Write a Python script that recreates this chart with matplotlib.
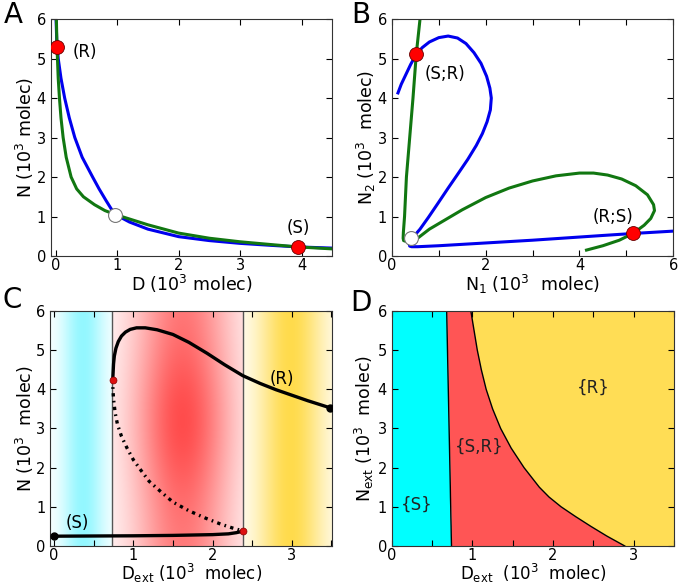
import numpy as np
import matplotlib
matplotlib.use('Agg')
import matplotlib.pyplot as plt

# ---- panel A: nullclines in (D, N) ----
a_blue_D = [0.00, 0.005, 0.015, 0.04, 0.085, 0.145, 0.22, 0.31, 0.43, 0.60, 0.705, 0.82,
            0.90, 0.97, 1.20, 1.50, 2.00, 2.50, 3.00, 3.50, 3.94, 4.50]
a_blue_N = [6.30, 6.00, 5.50, 5.00, 4.50, 4.00, 3.50, 3.00, 2.50, 2.00, 1.70, 1.40,
            1.20, 1.05, 0.86, 0.68, 0.49, 0.39, 0.32, 0.27, 0.23, 0.20]
a_green_D = [0.01, 0.01, 0.02, 0.04, 0.06, 0.085, 0.12, 0.17, 0.25, 0.34, 0.45, 0.63,
             0.80, 0.97, 1.50, 2.00, 2.50, 3.00, 3.50, 3.94, 4.50]
a_green_N = [6.30, 6.00, 5.30, 4.50, 4.00, 3.50, 3.00, 2.50, 2.00, 1.70, 1.50, 1.30,
             1.15, 1.05, 0.79, 0.58, 0.45, 0.36, 0.29, 0.23, 0.18]
a_stable = [(0.02, 5.30), (3.94, 0.23)]
a_unstable = (0.97, 1.05)

# ---- panel B: nullclines in (N1, N2) ----
b_blue_x = [0.13, 0.20, 0.30, 0.40, 0.52, 0.65, 0.80, 1.00, 1.20, 1.40, 1.58, 1.75, 1.90,
            2.02, 2.09, 2.12, 2.10, 2.03, 1.93, 1.80, 1.62, 1.42, 1.20, 0.98, 0.78, 0.60,
            0.47, 0.40, 0.37, 0.38, 0.42, 0.55, 1.00, 1.50, 2.00, 2.50, 3.00, 3.50, 4.00,
            4.50, 5.14, 6.00]
b_blue_y = [4.13, 4.35, 4.60, 4.85, 5.11, 5.28, 5.42, 5.53, 5.57, 5.52, 5.38, 5.15, 4.88,
            4.55, 4.25, 4.00, 3.70, 3.40, 3.10, 2.80, 2.45, 2.10, 1.72, 1.33, 0.98, 0.68,
            0.50, 0.38, 0.30, 0.25, 0.235, 0.235, 0.26, 0.295, 0.33, 0.365, 0.40, 0.44, 0.48,
            0.52, 0.57, 0.63]
b_green_x = [4.15, 4.50, 4.85, 5.14, 5.38, 5.52, 5.60, 5.58, 5.45, 5.20, 4.90, 4.60, 4.30,
             4.00, 3.50, 3.00, 2.50, 2.00, 1.50, 1.00, 0.80, 0.57, 0.50, 0.40, 0.30, 0.25,
             0.24, 0.245, 0.27, 0.31, 0.38, 0.45, 0.52, 0.60]
b_green_y = [0.15, 0.26, 0.40, 0.57, 0.78, 0.95, 1.15, 1.30, 1.55, 1.78, 1.95, 2.05, 2.10,
             2.10, 2.03, 1.90, 1.72, 1.48, 1.17, 0.82, 0.68, 0.47, 0.43, 0.39, 0.37, 0.39,
             0.45, 0.60, 1.00, 2.00, 3.00, 4.00, 5.11, 6.00]
b_stable = [(0.52, 5.11), (5.14, 0.57)]
b_unstable = (0.41, 0.45)

# ---- panel C: bifurcation diagram N vs D_ext ----
c_up_D = [0.74, 0.745, 0.75, 0.76, 0.78, 0.81, 0.85, 0.90, 0.96, 1.04, 1.15, 1.30, 1.50,
          1.70, 1.93, 2.15, 2.38, 2.60, 2.80, 3.00, 3.20, 3.48]
c_up_N = [4.25, 4.45, 4.65, 4.85, 5.05, 5.22, 5.36, 5.46, 5.53, 5.57, 5.57, 5.52, 5.40,
          5.20, 4.92, 4.63, 4.35, 4.15, 3.99, 3.85, 3.71, 3.53]
c_mid_D = [0.74, 0.742, 0.75, 0.77, 0.80, 0.85, 0.92, 1.00, 1.10, 1.20, 1.35, 1.50, 1.70,
           1.90, 2.10, 2.25, 2.39]
c_mid_N = [4.25, 4.00, 3.75, 3.40, 3.10, 2.80, 2.50, 2.20, 1.92, 1.65, 1.38, 1.12, 0.90,
           0.72, 0.56, 0.46, 0.38]
c_low_D = [0.00, 0.50, 1.00, 1.50, 2.00, 2.20, 2.30, 2.39]
c_low_N = [0.25, 0.255, 0.26, 0.27, 0.29, 0.31, 0.34, 0.38]
c_saddle = [(0.74, 4.25), (2.39, 0.38)]
c_ends = [(0.00, 0.25), (3.48, 3.53)]
c_edges = [0.73, 2.38]

# ---- panel D: phase diagram in (D_ext, N_ext) ----
d_N = [0, 0.25, 0.5, 0.75, 1, 1.25, 1.5, 2, 2.5, 3, 3.5, 4, 4.5, 5, 5.5, 6]
d_left = [0.74, 0.737, 0.735, 0.732, 0.73, 0.727, 0.725, 0.72, 0.715, 0.71, 0.705, 0.70,
          0.695, 0.69, 0.685, 0.68]
d_right = [2.89, 2.67, 2.47, 2.28, 2.10, 1.95, 1.83, 1.64, 1.48, 1.35, 1.25, 1.17,
           1.11, 1.06, 1.02, 0.98]

plt.rcParams['font.family'] = 'DejaVu Sans'
plt.rcParams['mathtext.default'] = 'regular'
plt.rcParams['xtick.direction'] = 'in'
plt.rcParams['ytick.direction'] = 'in'
plt.rcParams['xtick.top'] = True
plt.rcParams['ytick.right'] = True
plt.rcParams['xtick.major.size'] = 4
plt.rcParams['ytick.major.size'] = 4
plt.rcParams['xtick.major.pad'] = 1.5
plt.rcParams['xtick.labelsize'] = 10.5
plt.rcParams['ytick.labelsize'] = 10.5
plt.rcParams['axes.labelsize'] = 12.5
plt.rcParams['axes.edgecolor'] = '#333333'

fig = plt.figure(figsize=(6.78, 5.85), dpi=100)
axA = fig.add_axes([0.075, 0.5624, 0.415, 0.405])
axB = fig.add_axes([0.578, 0.5624, 0.415, 0.405])
axC = fig.add_axes([0.074, 0.0667, 0.416, 0.4017])
axD = fig.add_axes([0.578, 0.0667, 0.416, 0.4017])

def xticks_half(ax, lo, hi):
    t = np.arange(lo, hi + 0.01, 0.5)
    ax.set_xticks(t)
    ax.set_xticklabels(['%d' % v if v == int(v) else '' for v in t])

def labels(ax, xl, yl, ylx, xly=-0.12, xls=12.5):
    ax.set_xlabel(xl, va='center', fontsize=xls)
    ax.set_ylabel(yl, va='center')
    ax.xaxis.set_label_coords(0.5, xly)
    ax.yaxis.set_label_coords(ylx, 0.5)

# A
axA.plot(a_blue_D, a_blue_N, color='#0000ee', lw=2.2)
axA.plot(a_green_D, a_green_N, color='#117711', lw=2.2)
for x, y in a_stable:
    axA.plot(x, y, 'o', ms=10, mfc='red', mec='#660000', mew=0.6, zorder=5)
axA.plot(*a_unstable, 'o', ms=10, mfc='white', mec='#777777', mew=0.8, zorder=5)
axA.text(0.47, 5.17, '(R)', fontsize=12, va='center', ha='center')
axA.text(3.95, 0.70, '(S)', fontsize=12, va='center', ha='center')
axA.set_xlim(-0.08, 4.5)
axA.set_ylim(0, 6)
axA.set_xticks([0, 1, 2, 3, 4])
axA.set_yticks(range(7))
labels(axA, 'D (10$^3$ molec)', 'N (10$^3$ molec)', -0.092)

# B
axB.plot(b_blue_x, b_blue_y, color='#0000ee', lw=2.2)
axB.plot(b_green_x, b_green_y, color='#117711', lw=2.2)
for x, y in b_stable:
    axB.plot(x, y, 'o', ms=10, mfc='red', mec='#660000', mew=0.6, zorder=5)
axB.plot(*b_unstable, 'o', ms=10, mfc='white', mec='#777777', mew=0.8, zorder=5)
axB.text(1.13, 4.62, '(S;R)', fontsize=12, va='center', ha='center')
axB.text(4.72, 0.99, '(R;S)', fontsize=12, va='center', ha='center')
axB.set_xlim(0, 6)
axB.set_ylim(0, 6)
axB.set_xticks(range(7))
axB.set_xticklabels(['0', '', '2', '', '4', '', '6'])
axB.set_yticks(range(7))
labels(axB, 'N$_1$ (10$^3$  molec)', 'N$_2$ (10$^3$  molec)', -0.092)

# C
def band(ax, x0, x1, c, s, rgb, vmod=False):
    xs = np.linspace(x0, x1, 300)
    ys = np.linspace(0, 6, 150)
    X, Y = np.meshgrid(xs, ys)
    w = np.exp(-0.5 * ((X - c) / s) ** 2)
    if vmod:
        w = w * (0.72 + 0.28 * np.exp(-((Y - 3.2) / 2.0) ** 2))
    img = 1 - w[..., None] * (1 - np.array(rgb))
    ax.imshow(img, extent=(x0, x1, 0, 6), origin='lower', aspect='auto',
              interpolation='bilinear', zorder=0)

cxlo, cxhi = -0.05, 3.51
band(axC, cxlo, c_edges[0], 0.37, 0.19, (0.58, 0.97, 1.0))
band(axC, c_edges[0], c_edges[1], 1.62, 0.45, (1.0, 0.30, 0.30), vmod=True)
band(axC, c_edges[1], cxhi, 2.98, 0.30, (1.0, 0.86, 0.30))
for e in c_edges:
    axC.axvline(e, color='#555555', lw=1, zorder=1)
axC.plot(c_up_D, c_up_N, color='black', lw=2.4, zorder=2)
axC.plot(c_low_D, c_low_N, color='black', lw=2.4, zorder=2)
axC.plot(c_mid_D, c_mid_N, color='black', lw=2.4, zorder=2,
         linestyle=(0, (1, 1.3, 0.5, 1.3)))
for x, y in c_ends:
    axC.plot(x, y, 'o', ms=5, color='black', zorder=3)
for x, y in c_saddle:
    axC.plot(x, y, 'o', ms=5, mfc='#dd1111', mec='#880000', mew=0.5, zorder=3)
axC.text(0.29, 0.59, '(S)', fontsize=12, va='center', ha='center')
axC.text(2.88, 4.27, '(R)', fontsize=12, va='center', ha='center')
axC.set_xlim(cxlo, cxhi)
axC.set_ylim(0, 6)
xticks_half(axC, 0, 3.5)
axC.set_yticks(range(7))
labels(axC, 'D$_{ext}$ (10$^3$  molec)', 'N (10$^3$  molec)', -0.09, -0.117, 12)

# D
axD.fill_betweenx(d_N, 0, d_left, color='#00ffff', lw=0)
axD.fill_betweenx(d_N, d_left, d_right, color='#ff5555', lw=0)
axD.fill_betweenx(d_N, d_right, 3.5, color='#ffdd55', lw=0)
axD.plot(d_left, d_N, color='black', lw=1)
axD.plot(d_right, d_N, color='black', lw=1)
axD.text(0.31, 1.05, '{S}', fontsize=12, va='center', ha='center', color='#222222')
axD.text(1.08, 2.54, '{S,R}', fontsize=12, va='center', ha='center', color='#222222')
axD.text(2.5, 4.03, '{R}', fontsize=12, va='center', ha='center', color='#222222')
axD.set_xlim(0, 3.5)
axD.set_ylim(0, 6)
xticks_half(axD, 0, 3.5)
axD.set_yticks(range(7))
labels(axD, 'D$_{ext}$  (10$^3$  molec)', 'N$_{ext}$ (10$^3$  molec)', -0.098, -0.117, 12)

for letter, (x, y) in zip('ABCD', [(13, 15), (361, 15), (12, 300), (361, 303)]):
    fig.text(x / 678, 1 - y / 585, letter, fontsize=20, ha='center', va='center')

fig.savefig('out.png', dpi=100)
